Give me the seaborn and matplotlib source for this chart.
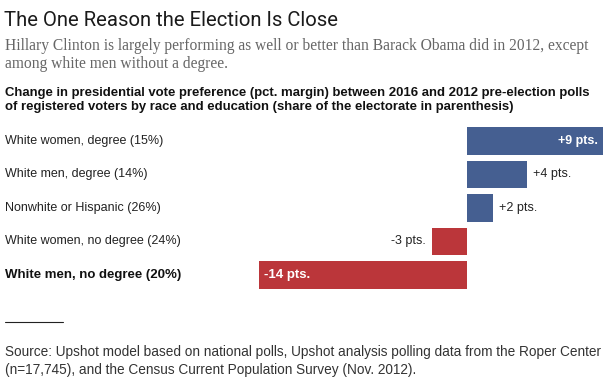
import matplotlib
matplotlib.use("Agg")
import matplotlib.pyplot as plt
import matplotlib.transforms as mtransforms
import seaborn as sns
import pandas as pd

categories = ["White women, degree (15%)", "White men, degree (14%)",
              "Nonwhite or Hispanic (26%)", "White women, no degree (24%)",
              "White men, no degree (20%)"]
values = [9.0, 4.0, 1.7, -2.3, -13.8]
value_labels = ["+9 pts.", "+4 pts.", "+2 pts.", "-3 pts.", "-14 pts."]

title = "The One Reason the Election Is Close"
subtitle = ("Hillary Clinton is largely performing as well or better than Barack Obama did in 2012, except\n"
            "among white men without a degree.")
header = ("Change in presidential vote preference (pct. margin) between 2016 and 2012 pre-election polls\n"
          "of registered voters by race and education (share of the electorate in parenthesis)")
source = ("Source: Upshot model based on national polls, Upshot analysis polling data from the Roper Center\n"
          "(n=17,745), and the Census Current Population Survey (Nov. 2012).")

BLUE = "#455f91"
RED = "#bb363a"

sns.set_theme(style="white")
plt.rcParams['font.family'] = ['Liberation Sans', 'DejaVu Sans']

W, H = 611, 381
fig = plt.figure(figsize=(W / 100, H / 100), dpi=100)
ax = fig.add_axes([0, 0, 1, 1])

df = pd.DataFrame({"cat": categories, "val": values})
palette = {c: (BLUE if v > 0 else RED) for c, v in zip(categories, values)}
sns.barplot(data=df, x="val", y="cat", hue="cat", palette=palette, legend=False,
            orient="h", width=0.81, saturation=1, ax=ax, edgecolor="none")

px = 15.1
zero_px = 467
ax.set_xlim(-zero_px / px, (W - zero_px) / px)
row0, pitch = 141, 33.5
ax.set_ylim((H - row0) / pitch, -row0 / pitch)
ax.axis("off")

def fy(p):
    return 1 - p / H

def fx(p):
    return p / W

fig.text(fx(4), fy(20), title, fontsize=14.6, family=['Roboto', 'DejaVu Sans'],
         fontweight='normal', color="#1a1a1a", va="center", ha="left")
fig.text(fx(5), fy(55), subtitle, fontsize=11.2, family=['Liberation Serif', 'DejaVu Serif'],
         color="#666666", va="center", ha="left", linespacing=1.25)
fig.text(fx(5), fy(100), header, fontsize=9.45, fontweight='bold', color="#111111",
         va="center", ha="left", linespacing=1.25)

trans = mtransforms.blended_transform_factory(fig.transFigure, ax.transData)
for i, c in enumerate(categories):
    last = i == len(categories) - 1
    ax.text(fx(5), i, c, transform=trans, fontsize=(9.5 if last else 9), va="center", ha="left",
            color=("#111111" if last else "#222222"), fontweight=('bold' if last else 'normal'))

for i, (v, lab) in enumerate(zip(values, value_labels)):
    if v >= 6:
        ax.text(v - 0.35, i, lab, fontsize=9, fontweight='bold', color="white", va="center", ha="right")
    elif v > 0:
        ax.text(v + 0.4, i, lab, fontsize=9, color="#222222", va="center", ha="left")
    elif v > -6:
        ax.text(v - 0.4, i, lab, fontsize=9, color="#222222", va="center", ha="right")
    else:
        ax.text(v + 0.35, i, lab, fontsize=9.5, fontweight='bold', color="white", va="center", ha="left")

fig.add_artist(plt.Line2D([fx(5), fx(63)], [fy(322), fy(322)], color="#222222", lw=0.8))
fig.text(fx(5), fy(361), source, fontsize=9.8, color="#333333", va="center", ha="left", linespacing=1.3)

fig.savefig("out.png", dpi=100)
